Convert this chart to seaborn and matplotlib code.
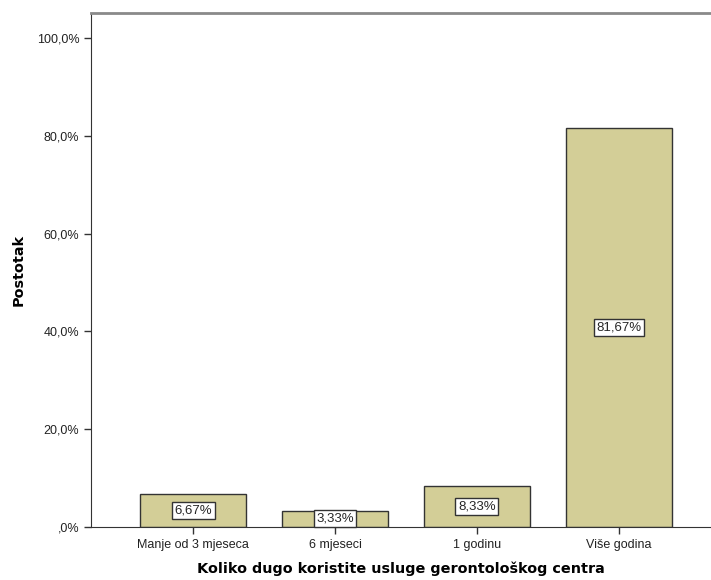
import matplotlib
matplotlib.use("Agg")
import matplotlib.pyplot as plt
import seaborn as sns
import pandas as pd

# podaci
kategorije = ["Manje od 3 mjeseca", "6 mjeseci", "1 godinu", "Više godina"]
postotci = [6.67, 3.33, 8.33, 81.67]
oznake = ["6,67%", "3,33%", "8,33%", "81,67%"]
y_ticks = [0, 20, 40, 60, 80, 100]
y_tick_labels = [",0%", "20,0%", "40,0%", "60,0%", "80,0%", "100,0%"]

df = pd.DataFrame({"kat": kategorije, "pct": postotci})

sns.set_style("white")
plt.rcParams["font.family"] = ["Liberation Sans", "DejaVu Sans"]

fig = plt.figure(figsize=(7.11, 5.8), dpi=100)
ax = fig.add_axes([0.128, 0.0914, 0.872, 0.8862])

sns.barplot(data=df, x="kat", y="pct", color="#D3CE97", saturation=1,
            edgecolor="#333333", linewidth=1, width=0.75, ax=ax)

for i, (v, t) in enumerate(zip(postotci, oznake)):
    ax.text(i, v / 2, t, ha="center", va="center", fontsize=9.5,
            bbox=dict(boxstyle="square,pad=0.2", fc="white", ec="#333333", lw=1))

ax.set_xlim(-0.72, 3.65)
ax.set_ylim(0, 105.1)
ax.set_yticks(y_ticks)
ax.set_yticklabels(y_tick_labels, fontsize=9, color="#222222")
ax.tick_params(axis="x", labelsize=9, labelcolor="#222222")
ax.tick_params(axis="both", direction="out", length=5, width=1, color="#333333",
               left=True, bottom=True)

ax.spines["right"].set_visible(False)
ax.spines["left"].set_color("#333333")
ax.spines["bottom"].set_color("#333333")
ax.spines["top"].set_color("#8a8a8a")
ax.spines["top"].set_linewidth(2)

ax.set_xlabel("Koliko dugo koristite usluge gerontološkog centra",
              family=["DejaVu Sans"], fontweight="bold", fontsize=10.4, labelpad=8,
              color="black")
ax.set_ylabel("Postotak", family=["DejaVu Sans"], fontweight="bold", fontsize=10.4,
              labelpad=8, color="black")

fig.savefig("out.png", dpi=100)
